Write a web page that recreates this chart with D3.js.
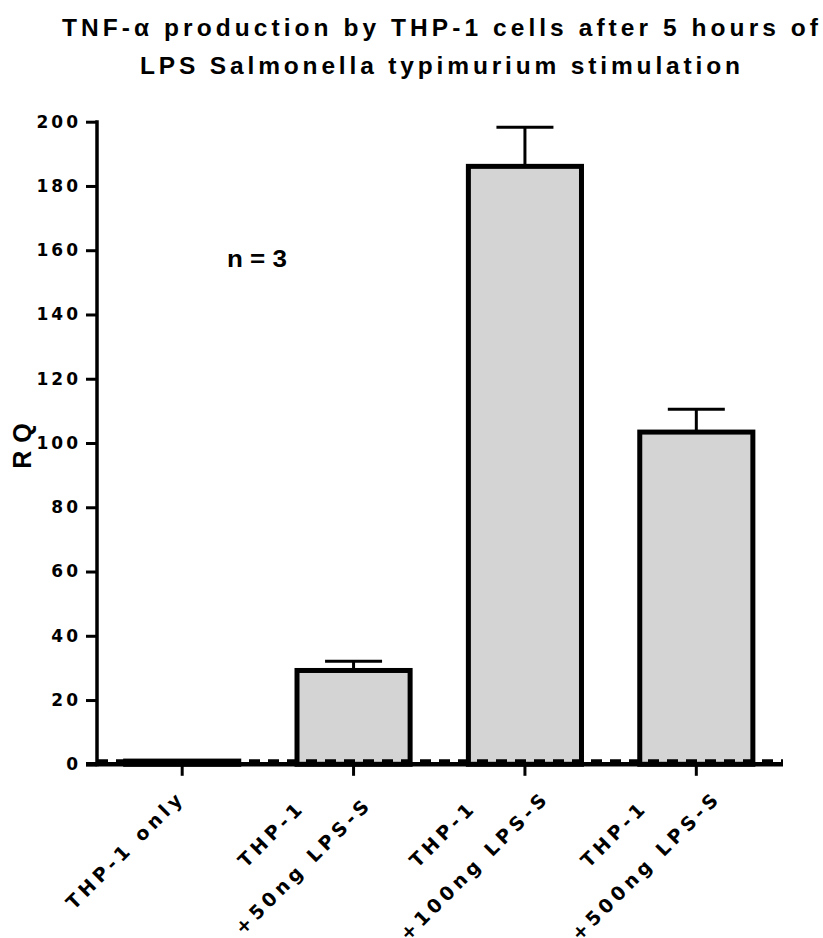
<!DOCTYPE html>
<html><head><meta charset="utf-8">
<script src="https://cdn.jsdelivr.net/npm/d3@7"></script>
<style>body{margin:0;background:#fff}</style>
</head><body><svg id="c" width="823" height="938"></svg>
<script>
const titleLines = ["TNF-α production by THP-1 cells after 5 hours of", "LPS Salmonella typimurium stimulation"];
const categories = ["THP-1 only", "THP-1\n+50ng LPS-S", "THP-1\n+100ng LPS-S", "THP-1\n+500ng LPS-S"];
const values = [1.0, 29.2, 186.1, 103.4];
const errors = [0.2, 2.9, 12.2, 7.1];
const yTicks = [0, 20, 40, 60, 80, 100, 120, 140, 160, 180, 200];
const yLabel = "RQ";
const annotation = "n = 3";
const refValue = 1;

const svg = d3.select("#c");
const narrow = "'Liberation Sans Narrow','Liberation Sans',Arial,sans-serif";
const wide = "'DejaVu Sans',Verdana,sans-serif";

const x = d3.scaleBand().domain(categories).range([96.5, 782]).paddingInner(0.34).paddingOuter(0.17);
const y = d3.scaleLinear().domain([0, 200]).range([764.3, 121.7]);

// title
const titleW = [756, 600];
const titleY = [35.5, 73.5];
titleLines.forEach((t, i) => {
  svg.append("text").attr("x", 440).attr("y", titleY[i])
    .attr("text-anchor", "middle")
    .attr("font-family", narrow).attr("font-weight", "bold").attr("font-size", 24.5)
    .attr("textLength", titleW[i]).attr("lengthAdjust", "spacing")
    .text(t);
});

// bars
const data = categories.map((c, i) => ({c, v: values[i], e: errors[i]}));
svg.append("g").selectAll("rect").data(data).join("rect")
  .attr("x", d => x(d.c)).attr("width", x.bandwidth())
  .attr("y", d => y(d.v)).attr("height", d => y(0) - y(d.v))
  .attr("fill", "#d4d4d4").attr("stroke", "#000").attr("stroke-width", 5);

// error bars (upper)
const eg = svg.append("g").attr("stroke", "#000").attr("stroke-width", 3);
data.filter(d => d.e > 0.5).forEach(d => {
  const cx = x(d.c) + x.bandwidth() / 2;
  eg.append("line").attr("x1", cx).attr("x2", cx).attr("y1", y(d.v)).attr("y2", y(d.v + d.e));
  eg.append("line").attr("x1", cx - 28.5).attr("x2", cx + 28.5).attr("y1", y(d.v + d.e)).attr("y2", y(d.v + d.e));
});

// reference dashed line
svg.append("line").attr("x1", 97).attr("x2", 783).attr("y1", y(refValue)).attr("y2", y(refValue))
  .attr("stroke", "#000").attr("stroke-width", 3.5).attr("stroke-dasharray", "11,8");

// x axis
const xAxis = d3.axisBottom(x).tickSize(11).tickSizeOuter(0).tickFormat("");
const xg = svg.append("g").attr("transform", `translate(0,${y(0) + 0.5})`).call(xAxis);
xg.select(".domain").remove();
xg.selectAll(".tick line").attr("stroke", "#000").attr("stroke-width", 3);
svg.append("line").attr("x1", 86).attr("x2", 783).attr("y1", y(0)).attr("y2", y(0))
  .attr("stroke", "#000").attr("stroke-width", 4.5);

// x labels
const xls = 4.3;
categories.forEach(c => {
  const lines = c.split("\n");
  const cx = x(c) + x.bandwidth() / 2;
  const ox = lines.length === 1 ? -58.5 : -68;
  const g = svg.append("g").attr("transform", `translate(${cx + ox},851)rotate(-45)`);
  lines.forEach((ln, i) => {
    g.append("text").attr("x", xls / 2).attr("y", (i - (lines.length - 1) / 2) * 45)
      .attr("text-anchor", "middle").attr("dominant-baseline", "central")
      .attr("font-family", wide).attr("font-weight", "bold").attr("font-size", 19)
      .attr("letter-spacing", xls).text(ln);
  });
});

// y axis
const yAxis = d3.axisLeft(y).tickValues(yTicks).tickSize(11).tickSizeOuter(0).tickPadding(4.5);
const yg = svg.append("g").attr("transform", "translate(97,0)").call(yAxis);
yg.select(".domain").remove();
yg.append("line").attr("x1", 0).attr("x2", 0).attr("y1", y(200) - 1.5).attr("y2", y(0) + 2)
  .attr("stroke", "#000").attr("stroke-width", 3.5);
yg.selectAll(".tick line").attr("stroke", "#000").attr("stroke-width", 3);
yg.selectAll(".tick text").attr("font-family", wide).attr("font-weight", "bold")
  .attr("font-size", 17).attr("letter-spacing", 3).attr("fill", "#000").attr("x", -16);

// y label
svg.append("text").attr("transform", "translate(22,446)rotate(-90)")
  .attr("x", 4).attr("text-anchor", "middle").attr("dominant-baseline", "central")
  .attr("font-family", narrow).attr("font-weight", "bold").attr("font-size", 25)
  .attr("letter-spacing", 8).text(yLabel);

// annotation
svg.append("text").attr("x", 227).attr("y", 266.7)
  .attr("font-family", narrow).attr("font-weight", "bold").attr("font-size", 23)
  .attr("textLength", 60).attr("lengthAdjust", "spacingAndGlyphs").text(annotation);
</script></body></html>
